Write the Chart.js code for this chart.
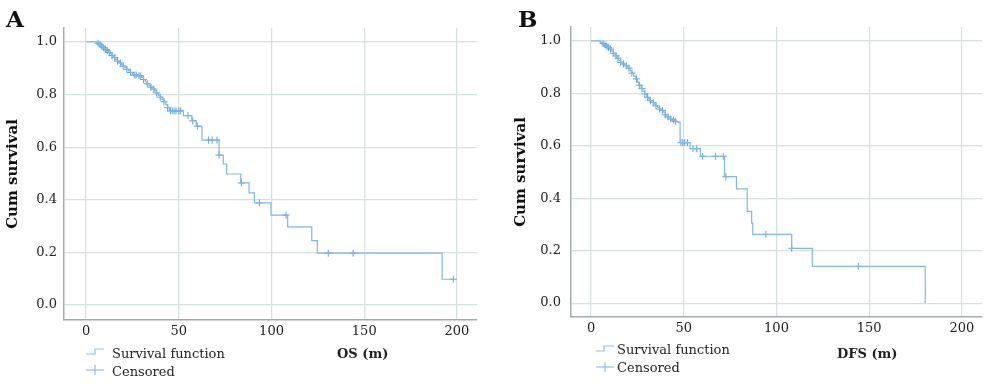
<!DOCTYPE html>
<html>
<head>
<meta charset="utf-8">
<script src="https://cdn.jsdelivr.net/npm/chart.js@4/dist/chart.umd.min.js"></script>
<style>
  body { margin: 0; background: #fff; }
  #wrap { position: relative; width: 1000px; height: 388px; font-family: "DejaVu Serif", serif; color: #222; }
  canvas { position: absolute; top: 0; }
  .txt { position: absolute; font-size: 13px; line-height: 13px; white-space: nowrap; }
  .bold { font-weight: bold; }
  .panel { position: absolute; font-size: 23px; line-height: 23px; font-weight: bold; color: #111; }
  svg { position: absolute; }
</style>
</head>
<body>
<div id="wrap">
  <canvas id="chartA" width="500" height="388" style="left:0"></canvas>
  <canvas id="chartB" width="500" height="388" style="left:500px"></canvas>

  <div class="panel" style="left:6px; top:7px">A</div>
  <div class="panel" style="left:518px; top:7px">B</div>

  <!-- legend A -->
  <svg style="left:85px; top:345px" width="22" height="34">
    <polyline points="1,9 10,9 10,4 19,4" fill="none" stroke="#8cc0ea" stroke-width="1.2"/>
    <line x1="1" y1="25" x2="19" y2="25" stroke="#8cc0ea" stroke-width="1.2"/>
    <line x1="10" y1="20" x2="10" y2="30" stroke="#8cc0ea" stroke-width="1.2"/>
  </svg>
  <div class="txt" style="left:112px; top:347px">Survival function</div>
  <div class="txt" style="left:112px; top:365px">Censored</div>
  <div class="txt bold" style="left:337px; top:347px">OS (m)</div>

  <!-- legend B -->
  <svg style="left:595px; top:341px" width="22" height="34">
    <polyline points="1,10 9,10 9,5 19,5" fill="none" stroke="#8cc0ea" stroke-width="1.2"/>
    <line x1="1" y1="26" x2="19" y2="26" stroke="#8cc0ea" stroke-width="1.2"/>
    <line x1="10" y1="21" x2="10" y2="31" stroke="#8cc0ea" stroke-width="1.2"/>
  </svg>
  <div class="txt" style="left:617px; top:343px">Survival function</div>
  <div class="txt" style="left:617px; top:361px">Censored</div>
  <div class="txt bold" style="left:837px; top:347px">DFS (m)</div>
</div>

<script>
// tick labels
const xTicks = [0, 50, 100, 150, 200];
const yTicks = [0, 0.2, 0.4, 0.6, 0.8, 1.0];

// panel A: overall survival (months), steps
const osTime = [0, 6, 7, 8, 9, 10, 11, 12, 13, 14, 15, 16, 17, 18, 19, 20, 21, 22, 23, 24,
  25, 26, 28, 30, 31, 32, 33, 34, 35, 36, 37, 38, 39, 40, 41, 42, 43, 44, 45, 52.5,
  57, 59.5, 62.5, 71.7, 74, 75.8, 83.4, 87.9, 90.8, 99.7, 108.7, 121.7, 124.7, 192, 198];
const osSurv = [1, .995, .99, .984, .978, .972, .966, .96, .955, .948, .941, .934, .927, .92, .914, .908, .902, .896, .89, .884,
  .878, .874, .871, .865, .857, .849, .841, .834, .828, .821, .814, .806, .798, .79, .782, .773, .762, .75, .738, .72,
  .70, .68, .627, .57, .536, .498, .464, .426, .388, .342, .297, .245, .197, .098, .098];
const osCensored = [6.5, 7.5, 8.5, 9.5, 10.5, 11.5, 12.5, 14, 15.5, 17, 18.5, 20, 22, 24, 26, 27, 28.5, 29.5, 31, 33,
  35, 36.5, 38, 40, 42, 44, 45.5, 46.5, 47.5, 48.5, 50, 51, 55, 57.5, 60, 66, 68, 70.6, 71.7, 83.8,
  93.5, 107.8, 130.6, 144, 198];

// panel B: disease free survival (months)
const dfsTime = [0, 5, 6, 7, 8, 9, 10, 11, 12, 13, 14, 15, 16, 17, 18, 19, 20, 21, 22, 23,
  24, 25, 26, 27, 28, 29, 30, 31, 32, 33, 34, 35, 36, 37, 38, 39, 40, 41, 42, 43,
  44, 45, 46.5, 48, 53.4, 59, 72, 78.4, 84.2, 86.6, 87.2, 108.2, 119.3, 180.2];
const dfsSurv = [1, .995, .99, .985, .98, .975, .969, .962, .953, .943, .934, .926, .918, .912, .908, .905, .896, .887, .877, .866,
  .855, .843, .831, .818, .808, .798, .785, .779, .772, .765, .759, .752, .745, .74, .735, .728, .718, .71, .706, .702,
  .698, .693, .69, .612, .589, .56, .482, .436, .35, .305, .262, .209, .14, 0];
const dfsCensored = [6.5, 7.5, 8.5, 9.5, 10.5, 12, 13.5, 14.5, 16, 17.5, 19, 20.5, 22, 24.5, 26, 27.5, 29, 30.5, 32, 33.5,
  35, 37, 38.5, 40, 41.5, 43, 44.5, 45.5, 48.5, 49.5, 50.5, 52, 55, 57, 60.2, 67.2, 71.3, 72.7, 94.3, 108.2, 144.1];

const LINE_COLOR = '#7db8e8';
const CROSS_COLOR = '#5ea4dd';
const GRID_COLOR = '#d7e0e1';
const AXIS_COLOR = '#a3abad';
const FONT = { family: 'DejaVu Serif', size: 13 };

// value of the step curve at time t
function _survivalAt(times, surv, t) {
  let s = surv[0];
  for (let i = 0; i < times.length; i++) {
    if (times[i] <= t) s = surv[i];
  }
  return s;
}

function _buildChart(id, times, surv, censored, opt) {
  const ctx = document.getElementById(id);
  return new Chart(ctx, {
    type: 'scatter',
    data: {
      datasets: [{
        type: 'line',
        label: 'Survival function',
        data: times.map((t, i) => ({ x: t, y: surv[i] })),
        stepped: 'before',
        borderColor: LINE_COLOR,
        borderWidth: 1.2,
        pointRadius: 0,
        fill: false
      }, {
        label: 'Censored',
        data: censored.map(t => ({ x: t, y: _survivalAt(times, surv, t) })),
        pointStyle: 'cross',
        pointRadius: 3.5,
        borderWidth: 1,
        borderColor: CROSS_COLOR,
        backgroundColor: CROSS_COLOR
      }]
    },
    options: {
      responsive: false,
      animation: false,
      layout: { padding: opt.padding },
      plugins: { legend: { display: false }, tooltip: { enabled: false } },
      scales: {
        x: {
          type: 'linear',
          min: opt.xMin,
          max: opt.xMax,
          afterBuildTicks: s => { s.ticks = xTicks.map(v => ({ value: v })) },
          afterFit: s => { s.height = opt.xHeight },
          grid: { color: GRID_COLOR, drawTicks: false, lineWidth: 1.2 },
          border: { color: AXIS_COLOR, width: 1.5 },
          ticks: { padding: 4, font: FONT, color: '#222' }
        },
        y: {
          type: 'linear',
          min: opt.yMin,
          max: opt.yMax,
          afterBuildTicks: s => { s.ticks = yTicks.map(v => ({ value: v })) },
          afterFit: s => { s.width = opt.yWidth },
          grid: { color: GRID_COLOR, drawTicks: false, lineWidth: 1.2 },
          border: { color: AXIS_COLOR, width: 1.5 },
          ticks: { padding: opt.yPad, font: FONT, color: '#222', callback: v => v.toFixed(1) },
          title: {
            display: true,
            text: 'Cum survival',
            color: '#111',
            font: { family: 'DejaVu Serif', size: 15, weight: 'bold' },
            padding: { top: opt.titlePad, bottom: 0 }
          }
        }
      }
    }
  });
}

_buildChart('chartA', osTime, osSurv, osCensored, {
  padding: { top: 28, right: 23, bottom: 0, left: 0 },
  xMin: -11.9, xMax: 210.8, yMin: -0.057, yMax: 1.053,
  xHeight: 68, yWidth: 64, yPad: 7, titlePad: 4
});

_buildChart('chartB', dfsTime, dfsSurv, dfsCensored, {
  padding: { top: 27, right: 18, bottom: 0, left: 0 },
  xMin: -10.8, xMax: 210.8, yMin: -0.053, yMax: 1.053,
  xHeight: 71, yWidth: 71, yPad: 10, titlePad: 12.5
});
</script>
</body>
</html>
